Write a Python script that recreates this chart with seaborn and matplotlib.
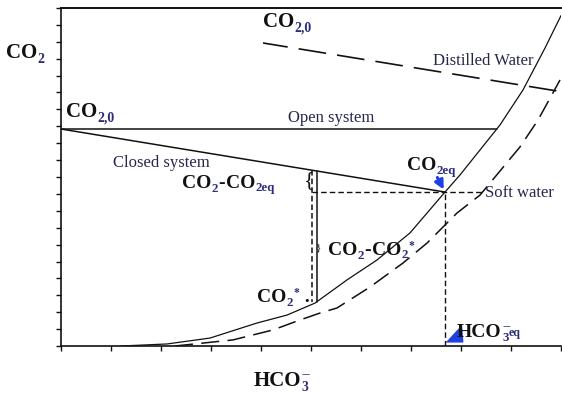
import matplotlib
matplotlib.use("Agg")
import matplotlib.pyplot as plt
import matplotlib.transforms as mtransforms
import numpy as np
import pandas as pd
import seaborn as sns

# ---- values (HCO3- on x, CO2 on y, arbitrary units) ----
# equilibrium curve, distilled water (solid)
distilled_hco3 = [1.20, 2.12, 2.98, 3.92, 4.52, 5.08, 5.72, 6.32, 6.98, 7.68, 7.98, 8.78, 9.24, 9.68, 10.0]
distilled_co2 = [0.00, 0.12, 0.47, 1.36, 1.83, 2.54, 3.91, 5.09, 6.69, 9.11, 10.12, 13.08, 15.15, 17.63, 19.55]
# equilibrium curve, soft water (dashed)
soft_hco3 = [2.28, 3.44, 4.24, 4.78, 5.18, 5.52, 6.18, 6.84, 7.32, 7.92, 8.38, 9.18, 9.54, 9.98]
soft_co2 = [0.00, 0.36, 0.95, 1.54, 1.95, 2.25, 3.49, 4.91, 6.09, 7.87, 8.93, 11.78, 13.37, 15.74]

co2_initial = 12.84            # CO2,0 for the open / closed systems
open_end_hco3 = 8.72
hco3_eq = 7.68
co2_eq = 9.11
distilled_start_hco3 = [4.04, 9.92]   # CO2,0 line of distilled water
distilled_start_co2 = [17.93, 15.09]
sample_hco3 = 5.11             # CO2 - CO2* span
sample_hco3_guide = 5.02
soft_guide_end = 8.42

x_ticks = list(range(0, 11))
y_ticks = list(range(0, 21))

# ---- style ----
sns.set_theme(style="ticks")
SERIF = "Liberation Serif"
plt.rcParams["font.family"] = [SERIF, "DejaVu Sans"]
plt.rcParams["lines.scale_dashes"] = False

INK = "#111111"
NAVY = "#2c2c7c"
LABEL = "#27274c"
BLUE = "#1f3fe0"
K_DESC = 0.217

fig = plt.figure(figsize=(5.62, 3.93), dpi=100)
ax = fig.add_axes([61 / 562, 47 / 393, 500 / 562, 338 / 393])
ax.set_xlim(0, 10)
ax.set_ylim(0, 20)


def P(px, py):
    """Pixel position on the canvas -> data coordinates."""
    return (px - 61) / 50.0, (346 - py) / 16.9


# curves
sns.lineplot(x=distilled_hco3, y=distilled_co2, ax=ax, color=INK, lw=0.9,
             sort=False, estimator=None)
sns.lineplot(x=soft_hco3, y=soft_co2, ax=ax, color=INK, lw=1.1,
             sort=False, estimator=None, linestyle=(0, (13, 6)))
sns.lineplot(x=distilled_start_hco3, y=distilled_start_co2, ax=ax, color=INK,
             lw=1.2, sort=False, estimator=None, linestyle=(2, (20, 8)))

# open and closed systems
sns.lineplot(x=[0, open_end_hco3], y=[co2_initial, co2_initial], ax=ax,
             color=INK, lw=1.1, sort=False, estimator=None)
sns.lineplot(x=[0, hco3_eq], y=[co2_initial, co2_eq], ax=ax,
             color=INK, lw=1.1, sort=False, estimator=None)

# construction lines
closed_at = lambda h: np.interp(h, [0, hco3_eq], [co2_initial, co2_eq])
curve_at = lambda h: np.interp(h, distilled_hco3, distilled_co2)
ax.plot([sample_hco3, sample_hco3], [closed_at(sample_hco3), curve_at(sample_hco3)],
        color=INK, lw=1.1)
ax.plot([sample_hco3_guide, sample_hco3_guide],
        [closed_at(sample_hco3_guide), curve_at(sample_hco3_guide) + 0.15],
        color=INK, lw=1.1, linestyle=(0, (4, 2.2)))
ax.plot([sample_hco3_guide, soft_guide_end], [co2_eq, co2_eq],
        color=INK, lw=1.0, linestyle=(0, (4, 2.2)))
ax.plot([hco3_eq, hco3_eq], [0, co2_eq], color=INK, lw=1.0,
        linestyle=(0, (4, 2.2)))

# axes frame and ticks
ax.spines["right"].set_visible(False)
for s in ("left", "bottom"):
    ax.spines[s].set_linewidth(1.2)
    ax.spines[s].set_color(INK)
ax.spines["top"].set_linewidth(1.4)
ax.spines["top"].set_color(INK)
ax.set_xticks(x_ticks)
ax.set_yticks(y_ticks)
ax.tick_params(direction="out", length=3.8, width=1.0, color=INK,
               labelbottom=False, labelleft=False)
ax.set_xlabel("")
ax.set_ylabel("")


def chem(x, y, parts, size=14, weight="bold", color=INK, subcolor=NAVY):
    """Write a chemical label piece by piece with coloured sub/superscripts."""
    prev, prev_fs, prev_dy = None, None, 0.0
    for s, kind in parts:
        if kind == "n":
            fs, dy, col = size, 0.0, color
        elif kind == "sub":
            fs, dy, col = size * 0.66, -size * 0.2, subcolor
        elif kind == "small":
            fs, dy, col = size * 0.62, size * 0.05, subcolor
        elif kind == "star":
            fs, dy, col = size * 0.6, size * 0.32, subcolor
        else:  # stacked superscript
            fs, dy, col = size * 0.66, size * 0.42, subcolor
        kw = dict(fontsize=fs, fontweight=weight, family=SERIF, color=col,
                  ha="left", va="baseline", clip_on=False)
        if prev is None:
            t = ax.text(x, y, s, **kw)
        else:
            anchor = (0, 0) if kind == "stack" else (1, 0)
            gap = {"stack": 0.0, "star": 0.2}.get(kind, 0.3)
            t = ax.annotate(s, xy=anchor, xycoords=prev,
                            xytext=(gap, K_DESC * prev_fs + dy - prev_dy),
                            textcoords="offset points", **kw)
        if kind != "stack":
            prev, prev_fs, prev_dy = t, fs, dy


def plain(px, py, s, size=12):
    ax.text(*P(px, py), s, fontsize=size, family=SERIF, color=LABEL,
            ha="left", va="baseline", clip_on=False)


# axis titles
chem(*P(6, 58), [("CO", "n"), ("2", "sub")], size=15)
chem(*P(254, 386), [("HCO", "n"), ("3", "sub"), ("--", "stack")], size=15)

# labels inside the plot
chem(*P(66, 117), [("CO", "n"), ("2,0", "sub")], size=15)
chem(*P(263, 27), [("CO", "n"), ("2,0", "sub")], size=15)
plain(433, 65, "Distilled Water")
plain(288, 122, "Open system")
plain(113, 167, "Closed system")
plain(485, 197, "Soft water")
chem(*P(182, 188), [("CO", "n"), ("2", "sub"), ("-", "n"), ("CO", "n"), ("2eq", "sub")])
chem(*P(407, 170), [("CO", "n"), ("2eq", "sub")])
chem(*P(328, 255), [("CO", "n"), ("2", "sub"), ("-", "n"), ("CO", "n"), ("2", "sub"), ("*", "star")])
chem(*P(257, 302), [("CO", "n"), ("2", "sub"), ("*", "star"), (" .", "n")])
chem(*P(457, 337), [("HCO", "n"), ("3", "sub"), ("--", "stack"), ("eq", "small")])

# braces
ax.text(*P(309, 181), "{", fontsize=16, family=SERIF, color=INK,
        ha="center", va="center")
ax.text(*P(319, 248), "}", fontsize=8, family=SERIF, color=INK,
        ha="center", va="center")

# blue pointers
ax.annotate("", xy=(hco3_eq, co2_eq), xytext=(-5.5, 10.5),
            textcoords="offset points",
            arrowprops=dict(arrowstyle="-|>", color=BLUE, lw=2.2,
                            mutation_scale=13, shrinkA=0, shrinkB=2))
tri = mtransforms.offset_copy(ax.transData, fig=fig, x=8.5, y=12, units="dots")
ax.plot([hco3_eq], [0], marker=[(-0.5, -0.45), (0.5, -0.45), (0.42, 0.55)],
        ms=13, color=BLUE, mec=BLUE, transform=tri, clip_on=False, lw=0)

fig.savefig("out.png", dpi=100)
